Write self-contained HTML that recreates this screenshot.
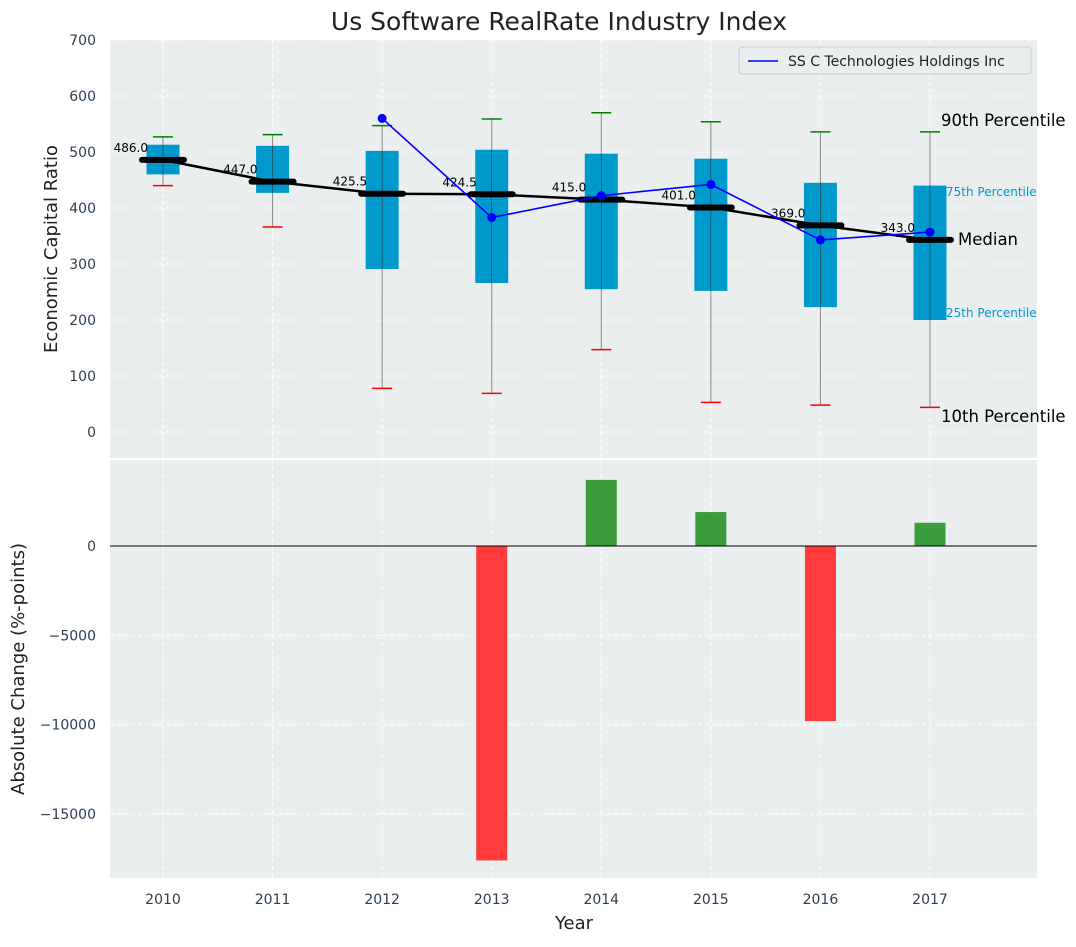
<!DOCTYPE html>
<html><head><meta charset="utf-8"><style>
body{margin:0;background:#fff;font-family:"Liberation Sans","DejaVu Sans",sans-serif}
svg text{font-family:"DejaVu Sans","Liberation Sans",sans-serif}
</style></head><body>
<svg id="c" width="1076" height="942" xmlns="http://www.w3.org/2000/svg"></svg>
<script>
const years=[2010,2011,2012,2013,2014,2015,2016,2017];
const p10=[440,366,78,69,147,53,48,44];
const p25=[460,427,291,266,255,252,223,200];
const med=[486,447,425.5,424.5,415,401,369,343];
const p75=[513,511,502,504,497,488,445,440];
const p90=[527,531,547,559,570,554,536,536];
const compYears=[2012,2013,2014,2015,2016,2017];
const compVals=[560,383,422,442,343,357];
const chgYears=[2013,2014,2015,2016,2017];
const chgVals=[-17600,3700,1900,-9800,1300];
const topTicks=[0,100,200,300,400,500,600,700];
const botTicks=[0,-5000,-10000,-15000];

const NS="http://www.w3.org/2000/svg",svg=document.getElementById('c');
function el(t,a,txt,p){const e=document.createElementNS(NS,t);for(const k in a)e.setAttribute(k,a[k]);if(txt!=null)e.textContent=txt;(p||svg).appendChild(e);return e;}
const X=y=>163+(y-2010)*109.57;
const YT=v=>432-v*0.56;
const YB=v=>546-v*0.017866;
const L=110,R=1037;

let e;
e=el('rect',{x:L,y:40,width:R-L,height:418,fill:'#eaeeef'});

e=el('rect',{x:L,y:460,width:R-L,height:418,fill:'#eaeeef'});


topTicks.forEach(t=>{el('line',{x1:L,x2:R,y1:YT(t),y2:YT(t),stroke:'#fff','stroke-dasharray':'4,3','stroke-width':1});
 e=el('text',{x:96,y:YT(t)+5,'text-anchor':'end','font-size':14,fill:'#2c3e50'},String(t));
 });
botTicks.forEach(t=>{el('line',{x1:L,x2:R,y1:YB(t),y2:YB(t),stroke:'#fff','stroke-dasharray':'4,3','stroke-width':1});
 e=el('text',{x:96,y:YB(t)+5,'text-anchor':'end','font-size':14,fill:'#2c3e50'},String(t).replace('-','−'));
 });
years.forEach(y=>{el('line',{x1:X(y),x2:X(y),y1:40,y2:458,stroke:'#fff','stroke-dasharray':'4,3'});
 el('line',{x1:X(y),x2:X(y),y1:460,y2:878,stroke:'#fff','stroke-dasharray':'4,3'});
 e=el('text',{x:X(y),y:904,'text-anchor':'middle','font-size':14,fill:'#2c3e50'},String(y));
 });

years.forEach((y,i)=>{const x=X(y);
 e=el('line',{x1:x,x2:x,y1:YT(p10[i]),y2:YT(p90[i]),stroke:'#888','stroke-width':1});
 
 e=el('rect',{x:x-16.5,y:YT(p75[i]),width:33,height:YT(p25[i])-YT(p75[i]),fill:'#0099cc'});
 
 el('line',{x1:x,x2:x,y1:YT(p75[i]),y2:YT(p25[i]),stroke:'#333','stroke-width':0.6});
 e=el('line',{x1:x-10,x2:x+10,y1:YT(p90[i]),y2:YT(p90[i]),stroke:'green','stroke-width':1.5});
 
 e=el('line',{x1:x-10,x2:x+10,y1:YT(p10[i]),y2:YT(p10[i]),stroke:'red','stroke-width':1.5});
 
});
e=el('polyline',{points:years.map((y,i)=>X(y)+','+YT(med[i])).join(' '),fill:'none',stroke:'#000','stroke-width':2.5});

years.forEach((y,i)=>{const x=X(y);
 e=el('line',{x1:x-21,x2:x+21,y1:YT(med[i]),y2:YT(med[i]),stroke:'#000','stroke-width':6,'stroke-linecap':'round'});
 
 e=el('text',{x:x-15,y:YT(med[i])-8,'text-anchor':'end','font-size':12,fill:'#000'},med[i].toFixed(1));
 
});
e=el('polyline',{points:compYears.map((y,i)=>X(y)+','+YT(compVals[i])).join(' '),fill:'none',stroke:'blue','stroke-width':1.6});

compYears.forEach((y,i)=>{e=el('circle',{cx:X(y),cy:YT(compVals[i]),r:4.5,fill:'blue'});
 });
[[941,126,'90th Percentile',16.5,'#000'],[946,196,'75th Percentile',12,'#0099cc'],[958,245,'Median',16.5,'#000'],[946,317,'25th Percentile',12,'#0099cc'],[941,422,'10th Percentile',16.5,'#000']].forEach(a=>{
 e=el('text',{x:a[0],y:a[1],'font-size':a[3],fill:a[4]},a[2]);
 });
const lg=el('g',{});
el('rect',{x:739,y:47,width:292,height:27,fill:'#eaeeef',stroke:'#ccc',rx:3},null,lg);
el('line',{x1:748,x2:778,y1:61,y2:61,stroke:'blue','stroke-width':1.5},null,lg);
el('text',{x:788,y:66,'font-size':14,fill:'#222'},'SS C Technologies Holdings Inc',lg);

chgYears.forEach((y,i)=>{const v=chgVals[i];const y0=YB(Math.max(v,0)),y1=YB(Math.min(v,0));
 e=el('rect',{x:X(y)-15.5,y:y0,width:31,height:y1-y0,fill:v<0?'#ff3b3b':'#3a9c3a'});
 });
e=el('line',{x1:L,x2:R,y1:YB(0),y2:YB(0),stroke:'#000','stroke-width':1});


e=el('text',{x:559,y:30,'text-anchor':'middle','font-size':25,fill:'#222'},'Us Software RealRate Industry Index');

e=el('text',{x:57,y:249,'text-anchor':'middle','font-size':18,fill:'#222',transform:'rotate(-90 57 249)'},'Economic Capital Ratio');

e=el('text',{x:24,y:669,'text-anchor':'middle','font-size':18,fill:'#222',transform:'rotate(-90 24 669)'},'Absolute Change (%-points)');

e=el('text',{x:574,y:929,'text-anchor':'middle','font-size':18,fill:'#222'},'Year');

</script>
</body></html>
